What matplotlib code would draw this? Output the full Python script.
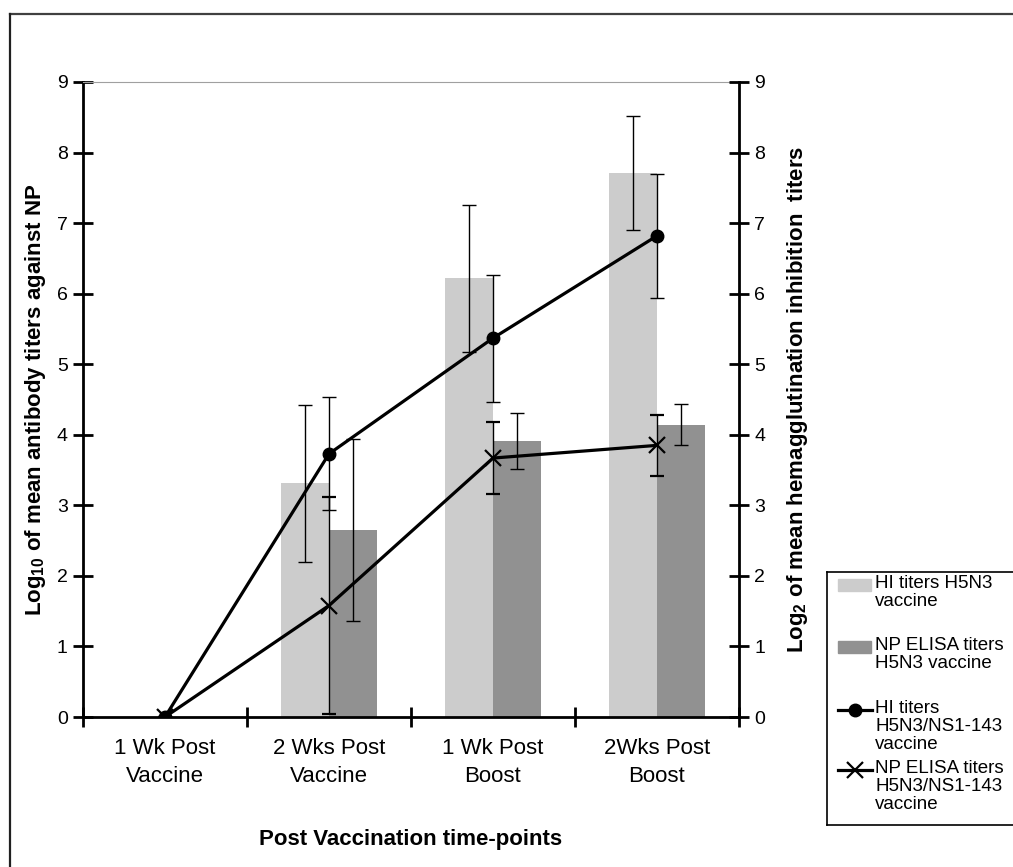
import matplotlib
matplotlib.use("Agg")
import matplotlib.pyplot as plt
from matplotlib.patches import Rectangle
from matplotlib.lines import Line2D
import numpy as np

plt.rcParams['font.family'] = ['Liberation Sans', 'DejaVu Sans']
plt.rcParams['mathtext.fontset'] = 'custom'
plt.rcParams['mathtext.rm'] = 'Liberation Sans'
plt.rcParams['mathtext.bf'] = 'Liberation Sans:bold'

# data
categories = ["1 Wk Post\nVaccine", "2 Wks Post\nVaccine", "1 Wk Post\nBoost", "2Wks Post\nBoost"]
hi_bar = [0, 3.31, 6.22, 7.71]
hi_bar_err = [0, 1.11, 1.04, 0.81]
np_bar = [0, 2.65, 3.91, 4.14]
np_bar_err = [0, 1.29, 0.40, 0.29]
hi_line = [0, 3.73, 5.37, 6.82]
hi_line_err = [0, 0.80, 0.90, 0.88]
np_line = [0, 1.58, 3.67, 3.85]
np_line_err = [0, 1.54, 0.51, 0.43]

W, H = 1013, 867
fig = plt.figure(figsize=(W / 100, H / 100), dpi=100)

# outer frame (only top and left edges are in the picture)
fig.add_artist(Line2D([10/W, 1], [1-14/H, 1-14/H], color='#404040', lw=1.6))
fig.add_artist(Line2D([10/W, 10/W], [0, 1-14/H], color='#202020', lw=1.6))

ax = fig.add_axes([83/W, 1-717/H, 656/W, 635/H])
x = np.arange(len(categories))
w = 0.29
ax.bar(x - w/2, hi_bar, w, color='#cccccc', zorder=1)
ax.bar(x + w/2, np_bar, w, color='#919191', zorder=1)
ax.errorbar(x[1:] - w/2, hi_bar[1:], yerr=hi_bar_err[1:], fmt='none', ecolor='black',
            elinewidth=1, capsize=5, capthick=1, zorder=2)
ax.errorbar(x[1:] + w/2, np_bar[1:], yerr=np_bar_err[1:], fmt='none', ecolor='black',
            elinewidth=1, capsize=5, capthick=1, zorder=2)

ax.set_xlim(-0.5, 3.5)
ax.set_ylim(0, 9)
ax.set_yticks(range(10))
ax.set_xticks(x)
ax.set_xticklabels(categories, fontsize=16, linespacing=1.45)
ax.set_xticks(np.arange(-0.5, 4, 1), minor=True)
ax.tick_params(axis='x', which='major', length=0, pad=15)
ax.tick_params(axis='x', which='minor', length=14, width=2, direction='inout')
ax.tick_params(axis='y', length=14, width=2, direction='inout', labelsize=14, pad=4)
for s in ['left', 'bottom']:
    ax.spines[s].set_linewidth(2)
ax.spines['right'].set_visible(False)
ax.spines['top'].set_color('#a0a0a0')
ax.spines['top'].set_linewidth(0.8)
ax.set_ylabel(r"Log$_\mathbf{10}$ of mean antibody titers against NP", fontsize=16,
              fontweight='bold', labelpad=6)
ax.set_xlabel("Post Vaccination time-points", fontsize=16, fontweight='bold', labelpad=30)

ax2 = ax.twinx()
ax2.set_ylim(0, 9)
ax2.set_yticks(range(10))
ax2.errorbar(x, hi_line, yerr=hi_line_err, color='black', lw=2.3, marker='o', ms=9,
             ecolor='black', elinewidth=1, capsize=5, capthick=1, zorder=3)
ax2.errorbar(x, np_line, yerr=np_line_err, color='black', lw=2.3, marker='x', ms=11, mew=1.6,
             ecolor='black', elinewidth=1, capsize=5, capthick=1, zorder=3)
ax2.tick_params(axis='y', length=14, width=2, direction='inout', labelsize=14, pad=4)
ax2.spines['right'].set_linewidth(2)
ax2.spines['left'].set_visible(False)
ax2.spines['top'].set_visible(False)
ax2.spines['bottom'].set_visible(False)
ax2.set_ylabel(r"Log$_\mathbf{2}$ of mean hemagglutination inhibition  titers", fontsize=16,
               fontweight='bold', rotation=90, labelpad=14)

# legend box, drawn in pixel units (y grows downward)
lax = fig.add_axes([827/W, 1-825/H, 190/W, 253/H])
lax.set_xlim(0, 190)
lax.set_ylim(253, 0)
lax.set_xticks([])
lax.set_yticks([])
for s in lax.spines.values():
    s.set_linewidth(1.2)
leg_labels = ["HI titers H5N3\nvaccine", "NP ELISA titers\nH5N3 vaccine",
              "HI titers\nH5N3/NS1-143\nvaccine", "NP ELISA titers\nH5N3/NS1-143\nvaccine"]
leg_rows = [13, 75, 138, 198]
lax.add_patch(Rectangle((11, leg_rows[0] - 6), 33, 12, color='#cccccc'))
lax.add_patch(Rectangle((11, leg_rows[1] - 6), 33, 12, color='#919191'))
lax.plot([11, 45], [leg_rows[2]] * 2, color='black', lw=2.3)
lax.plot([28], [leg_rows[2]], 'o', color='black', ms=9)
lax.plot([11, 45], [leg_rows[3]] * 2, color='black', lw=2.3)
lax.plot([28], [leg_rows[3]], 'x', color='black', ms=11, mew=1.6)
for lab, yy in zip(leg_labels, leg_rows):
    lax.text(48, yy - 10, lab, fontsize=13.5, va='top', ha='left', linespacing=1.08)

fig.savefig("out.png", dpi=100)
